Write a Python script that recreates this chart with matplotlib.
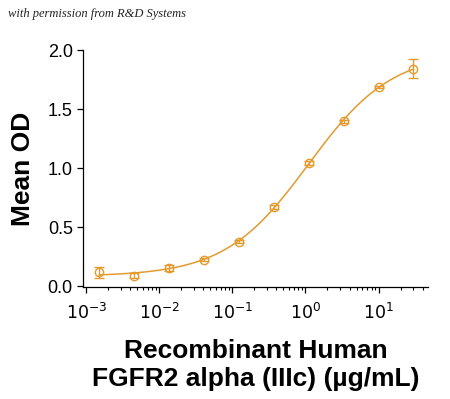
import numpy as np
import matplotlib
matplotlib.use("Agg")
import matplotlib.pyplot as plt
from matplotlib.ticker import LogLocator, NullFormatter, FixedLocator

# Data
conc = [0.00152, 0.00457, 0.0137, 0.0412, 0.123, 0.370, 1.11, 3.33, 10.0, 30.0]
mean_od = [0.118, 0.090, 0.158, 0.225, 0.377, 0.673, 1.045, 1.397, 1.690, 1.842]
sem = [0.045, 0.020, 0.025, 0.012, 0.012, 0.020, 0.020, 0.015, 0.010, 0.080]
x_ticks = [1e-3, 1e-2, 1e-1, 1e0, 1e1]
x_tick_labels = ["$10^{-3}$", "$10^{-2}$", "$10^{-1}$", "$10^{0}$", "$10^{1}$"]
y_ticks = [0.0, 0.5, 1.0, 1.5, 2.0]

color = "#E39A2E"

# 4-parameter logistic fit of the data (simple Levenberg-Marquardt)
x = np.array(conc)
y = np.array(mean_od)


def f4(p, xx):
    b, t, lc, h = p
    return b + (t - b) / (1 + 10 ** ((lc - np.log10(xx)) * h))


p = np.array([0.08, 2.0, 0.0, 0.9])
lam = 1e-3
for _ in range(500):
    r = y - f4(p, x)
    J = np.zeros((len(x), 4))
    for k in range(4):
        dp = np.zeros(4)
        dp[k] = 1e-6
        J[:, k] = (f4(p + dp, x) - f4(p - dp, x)) / 2e-6
    A = J.T @ J
    g = J.T @ r
    step = np.linalg.solve(A + lam * np.diag(np.diag(A)), g)
    pn = p + step
    if np.sum((y - f4(pn, x)) ** 2) < np.sum(r ** 2):
        p = pn
        lam *= 0.5
    else:
        lam *= 5

xs = np.logspace(np.log10(conc[0]), np.log10(conc[-1]), 300)

fig = plt.figure(figsize=(4.5, 3.99), dpi=100)
ax = fig.add_axes([0.185, 0.281, 0.767, 0.593])

ax.plot(xs, f4(p, xs), color=color, lw=1.1)
ax.errorbar(conc, mean_od, yerr=sem, fmt="o", mfc="none", mec=color, ecolor=color,
            ms=6, mew=1.0, capsize=3.5, elinewidth=1.0, capthick=1.0)

ax.set_xscale("log")
ax.set_xlim(10 ** -3.04, 48)
ax.set_ylim(-0.005, 2.0)
ax.xaxis.set_major_locator(FixedLocator(x_ticks))
ax.set_xticklabels(x_tick_labels)
ax.xaxis.set_minor_locator(LogLocator(base=10, subs=np.arange(2, 10)))
ax.xaxis.set_minor_formatter(NullFormatter())
ax.set_yticks(y_ticks)
ax.set_yticklabels([f"{v:.1f}" for v in y_ticks])

for s in ["top", "right"]:
    ax.spines[s].set_visible(False)
for s in ["left", "bottom"]:
    ax.spines[s].set_linewidth(0.9)

ax.tick_params(axis="both", which="major", direction="out", length=4, width=0.9,
               labelsize=13, colors="black")
ax.tick_params(axis="x", which="major", labelsize=12.5, pad=7)
ax.tick_params(axis="x", which="minor", direction="out", length=2.5, width=0.8)

for lbl in ax.get_xticklabels() + ax.get_yticklabels():
    lbl.set_fontfamily("Liberation Sans")

ax.set_ylabel("Mean OD", fontsize=19, fontweight="bold", family="Liberation Sans", labelpad=9)
ax.set_xlabel("Recombinant Human\nFGFR2 alpha (IIIc) (µg/mL)", fontsize=19,
              fontweight="bold", family="Liberation Sans", labelpad=12, linespacing=1.22)

fig.text(0.018, 0.958, "with permission from R&D Systems", fontsize=9, style="italic",
         family="Liberation Serif", color="#222222")

fig.savefig("out.png", dpi=100)
